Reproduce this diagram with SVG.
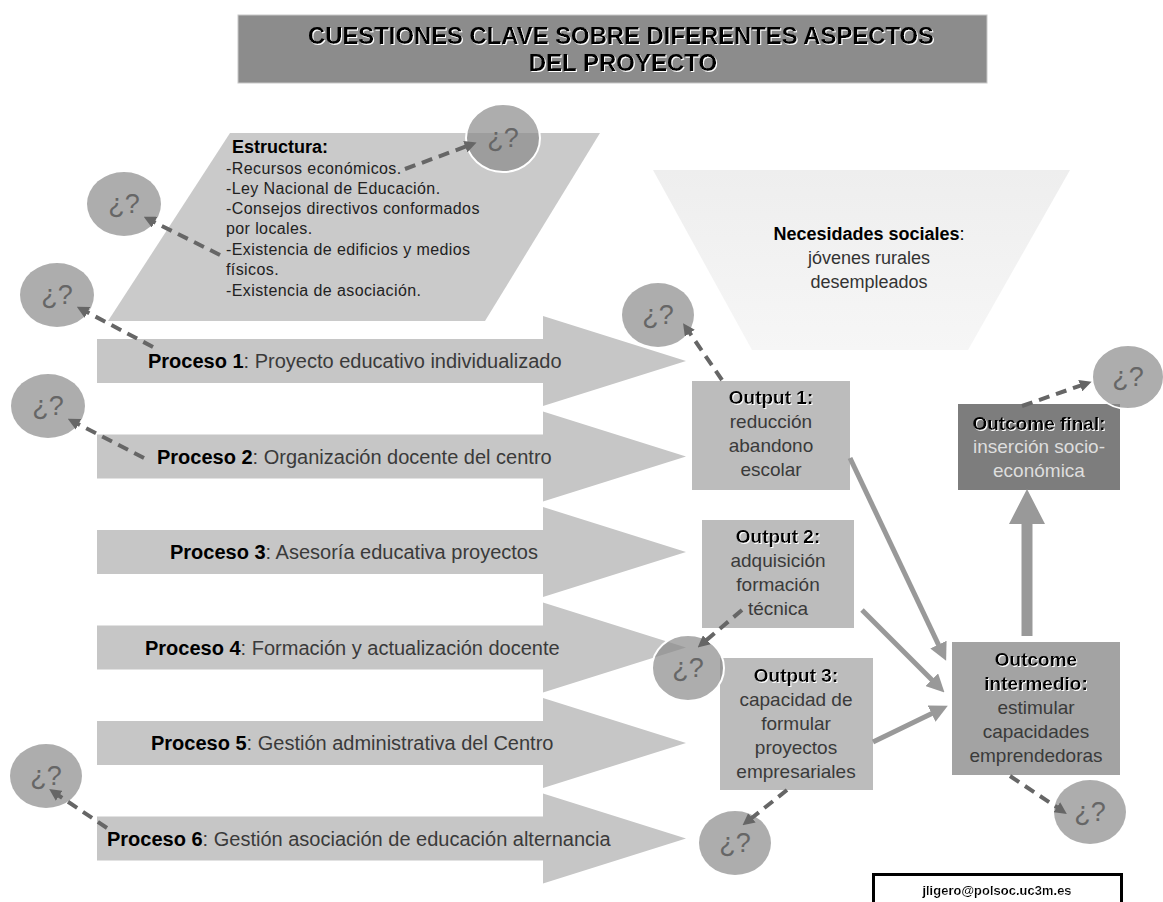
<svg xmlns="http://www.w3.org/2000/svg" width="1163" height="902" viewBox="0 0 1163 902">
  <defs>
    <style>
      text { font-family: "Liberation Sans", Arial, sans-serif; }
      .title { font-size: 24px; font-weight: bold; fill: #000; text-anchor: middle; }
      .proc { fill: #c6c6c6; }
      .ptxt { font-size: 20px; fill: #3a3a3a; }
      .ptxt tspan.b { font-weight: bold; fill: #000; }
      .box { fill: #bcbcbc; }
      .btxt { font-size: 19px; fill: #3a3a3a; text-anchor: middle; }
      .bhead { font-weight: bold; fill: #000; }
      .q { fill: #8a8a8a; fill-opacity: 0.7; }
      .qw { stroke: #fff; stroke-width: 2; }
      .qtxt { font-size: 27px; fill: #666; text-anchor: middle; }
      .est { font-size: 16px; fill: #222; letter-spacing: 0.4px; }
      .dash { fill: none; stroke: #666; stroke-width: 4; stroke-dasharray: 11 7; marker-end: url(#dh); }
      .solid { fill: none; stroke: #999; stroke-width: 5; marker-end: url(#sh); }
    </style>
    <filter id="halo" x="-5%" y="-20%" width="110%" height="140%">
      <feOffset in="SourceAlpha" dx="1" dy="1" result="off"/>
      <feFlood flood-color="#ffffff"/>
      <feComposite in2="off" operator="in" result="white"/>
      <feMerge>
        <feMergeNode in="white"/>
        <feMergeNode in="SourceGraphic"/>
      </feMerge>
    </filter>
    <linearGradient id="needGrad" x1="0" y1="0" x2="0" y2="1">
      <stop offset="0" stop-color="#eeeeee"/>
      <stop offset="1" stop-color="#f6f6f6"/>
    </linearGradient>
    <marker id="dh" markerUnits="userSpaceOnUse" markerWidth="12" markerHeight="12" viewBox="0 0 12 12" refX="5" refY="6" orient="auto">
      <path d="M0,0 L12,6 L0,12 z" fill="#666"/>
    </marker>
    <marker id="sh" markerUnits="userSpaceOnUse" markerWidth="18" markerHeight="18" viewBox="0 0 18 18" refX="6" refY="9" orient="auto">
      <path d="M0,0 L18,9 L0,18 z" fill="#999"/>
    </marker>
  </defs>

  <rect width="1163" height="902" fill="#fff"/>

  <!-- title banner -->
  <g id="title">
    <rect x="238" y="15" width="749" height="68" fill="#8c8c8c" stroke="#c8c8c8" stroke-width="1"/>
    <g filter="url(#halo)">
      <text class="title" x="621" y="44" textLength="626" lengthAdjust="spacingAndGlyphs">CUESTIONES CLAVE SOBRE DIFERENTES ASPECTOS</text>
      <text class="title" x="623" y="71">DEL PROYECTO</text>
    </g>
  </g>

  <!-- social needs funnel -->
  <g id="necesidades">
    <polygon points="653,170 1070,170 968,350 752,350" fill="url(#needGrad)"/>
    <text x="869" y="240" text-anchor="middle" style="font-size:18px;fill:#000"><tspan font-weight="bold">Necesidades sociales</tspan>:</text>
    <text x="869" y="264" text-anchor="middle" style="font-size:18px;fill:#333">jóvenes rurales</text>
    <text x="869" y="288" text-anchor="middle" style="font-size:18px;fill:#333">desempleados</text>
  </g>

  <!-- structure parallelogram -->
  <g id="estructura">
    <polygon points="230,133 600,133 485,321 108,321" fill="#cacaca"/>
    <text x="232" y="153" style="font-size:18px;font-weight:bold;fill:#000">Estructura:</text>
    <text class="est" x="226" y="174">-Recursos económicos.</text>
    <text class="est" x="226" y="194">-Ley Nacional de Educación.</text>
    <text class="est" x="226" y="214">-Consejos directivos conformados</text>
    <text class="est" x="226" y="234">por locales.</text>
    <text class="est" x="226" y="255">-Existencia de edificios y medios</text>
    <text class="est" x="226" y="275">físicos.</text>
    <text class="est" x="226" y="296">-Existencia de asociación.</text>
  </g>

  <!-- process arrows -->
  <g id="proceso1">
    <polygon class="proc" points="97,339 543,339 543,316 686,361 543,406 543,383 97,383"/>
    <text class="ptxt" x="148" y="368"><tspan class="b">Proceso 1</tspan>: Proyecto educativo individualizado</text>
  </g>
  <g id="proceso2">
    <polygon class="proc" points="97,434.5 543,434.5 543,411.5 686,456.5 543,501.5 543,478.5 97,478.5"/>
    <text class="ptxt" x="157" y="463.5"><tspan class="b">Proceso 2</tspan>: Organización docente del centro</text>
  </g>
  <g id="proceso3">
    <polygon class="proc" points="97,530 543,530 543,507 686,552 543,597 543,574 97,574"/>
    <text class="ptxt" x="170" y="559"><tspan class="b">Proceso 3</tspan>: Asesoría educativa proyectos</text>
  </g>
  <g id="proceso4">
    <polygon class="proc" points="97,625.5 543,625.5 543,602.5 686,647.5 543,692.5 543,669.5 97,669.5"/>
    <text class="ptxt" x="145" y="654.5"><tspan class="b">Proceso 4</tspan>: Formación y actualización docente</text>
  </g>
  <g id="proceso5">
    <polygon class="proc" points="97,721 543,721 543,698 686,743 543,788 543,765 97,765"/>
    <text class="ptxt" x="151" y="750"><tspan class="b">Proceso 5</tspan>: Gestión administrativa del Centro</text>
  </g>
  <g id="proceso6">
    <polygon class="proc" points="97,816.5 543,816.5 543,793.5 686,838.5 543,883.5 543,860.5 97,860.5"/>
    <text class="ptxt" x="107" y="845.5"><tspan class="b">Proceso 6</tspan>: Gestión asociación de educación alternancia</text>
  </g>

  <!-- outputs -->
  <g id="output1">
    <rect class="box" x="692" y="381" width="158" height="109"/>
    <text class="btxt bhead" x="771" y="404" filter="url(#halo)">Output 1:</text>
    <text class="btxt" x="771" y="428">reducción</text>
    <text class="btxt" x="771" y="452">abandono</text>
    <text class="btxt" x="771" y="476">escolar</text>
  </g>
  <g id="output2">
    <rect class="box" x="702" y="520" width="152" height="108"/>
    <text class="btxt bhead" x="778" y="543" filter="url(#halo)">Output 2:</text>
    <text class="btxt" x="778" y="567">adquisición</text>
    <text class="btxt" x="778" y="591">formación</text>
    <text class="btxt" x="778" y="615">técnica</text>
  </g>
  <g id="output3">
    <rect class="box" x="720" y="658" width="153" height="132"/>
    <text class="btxt bhead" x="796" y="682" filter="url(#halo)">Output 3:</text>
    <text class="btxt" x="796" y="706">capacidad de</text>
    <text class="btxt" x="796" y="730">formular</text>
    <text class="btxt" x="796" y="754">proyectos</text>
    <text class="btxt" x="796" y="778">empresariales</text>
  </g>

  <!-- outcomes -->
  <g id="outcome-intermedio">
    <rect x="952" y="642" width="168" height="133" fill="#a3a3a3"/>
    <text class="btxt bhead" x="1036" y="666" filter="url(#halo)">Outcome</text>
    <text class="btxt bhead" x="1036" y="690" filter="url(#halo)">intermedio:</text>
    <text class="btxt" x="1036" y="714">estimular</text>
    <text class="btxt" x="1036" y="738">capacidades</text>
    <text class="btxt" x="1036" y="762">emprendedoras</text>
  </g>
  <g id="outcome-final">
    <rect x="958" y="404" width="162" height="86" fill="#7d7d7d"/>
    <text class="btxt bhead" x="1039" y="430" filter="url(#halo)">Outcome final:</text>
    <text class="btxt" x="1039" y="453" style="fill:#dedede">inserción socio-</text>
    <text class="btxt" x="1039" y="477" style="fill:#dedede">económica</text>
  </g>

  <!-- question bubbles -->
  <g id="q1"><ellipse class="q qw" cx="503" cy="138" rx="37" ry="34"/><text class="qtxt" x="503" y="147">¿?</text></g>
  <g id="q2"><ellipse class="q" cx="124" cy="204" rx="37" ry="32"/><text class="qtxt" x="124" y="213">¿?</text></g>
  <g id="q3"><ellipse class="q" cx="57" cy="295" rx="37" ry="32"/><text class="qtxt" x="57" y="304">¿?</text></g>
  <g id="q4"><ellipse class="q" cx="658" cy="315" rx="36" ry="32"/><text class="qtxt" x="658" y="324">¿?</text></g>
  <g id="q5"><ellipse class="q" cx="48" cy="406" rx="37" ry="32"/><text class="qtxt" x="48" y="415">¿?</text></g>
  <g id="q6"><ellipse class="q qw" cx="1128" cy="377" rx="36" ry="32"/><text class="qtxt" x="1128" y="386">¿?</text></g>
  <g id="q7"><ellipse class="q qw" cx="688" cy="668" rx="36" ry="33"/><text class="qtxt" x="688" y="677">¿?</text></g>
  <g id="q8"><ellipse class="q" cx="1090" cy="812" rx="36" ry="32"/><text class="qtxt" x="1090" y="821">¿?</text></g>
  <g id="q9"><ellipse class="q" cx="46" cy="776" rx="36" ry="32"/><text class="qtxt" x="46" y="785">¿?</text></g>
  <g id="q10"><ellipse class="q" cx="735" cy="843" rx="36" ry="32"/><text class="qtxt" x="735" y="852">¿?</text></g>

  <!-- connectors -->
  <g id="connectors">
    <!-- dashed question links -->
    <path class="dash" d="M405,169 L470,145"/>
    <path class="dash" d="M220,255 L150,220"/>
    <path class="dash" d="M153,347 L83,310"/>
    <path class="dash" d="M144,458 L74,422"/>
    <path class="dash" d="M722,380 L687,329"/>
    <path class="dash" d="M1022,406 L1085,384"/>
    <path class="dash" d="M742,610 L703,643"/>
    <path class="dash" d="M787,790 L748,821"/>
    <path class="dash" d="M1010,776 L1061,810"/>
    <path class="dash" d="M107,828 L55,793"/>
    <!-- output to outcome flows -->
    <path class="solid" d="M850,458 L941,650"/>
    <path class="solid" d="M862,610 L936,684"/>
    <path class="solid" d="M873,742 L937,711"/>
    <!-- intermediate to final outcome -->
    <polygon points="1021.5,636 1032.5,636 1032.5,524 1045,524 1027,489 1009,524 1021.5,524" fill="#999"/>
  </g>

  <!-- contact -->
  <g id="contacto">
    <rect x="873.5" y="874.5" width="248" height="40" fill="#fff" stroke="#000" stroke-width="3"/>
    <text x="997" y="895" text-anchor="middle" filter="url(#halo)" style="font-size:13px;font-weight:bold;fill:#000">jligero@polsoc.uc3m.es</text>
  </g>
</svg>
